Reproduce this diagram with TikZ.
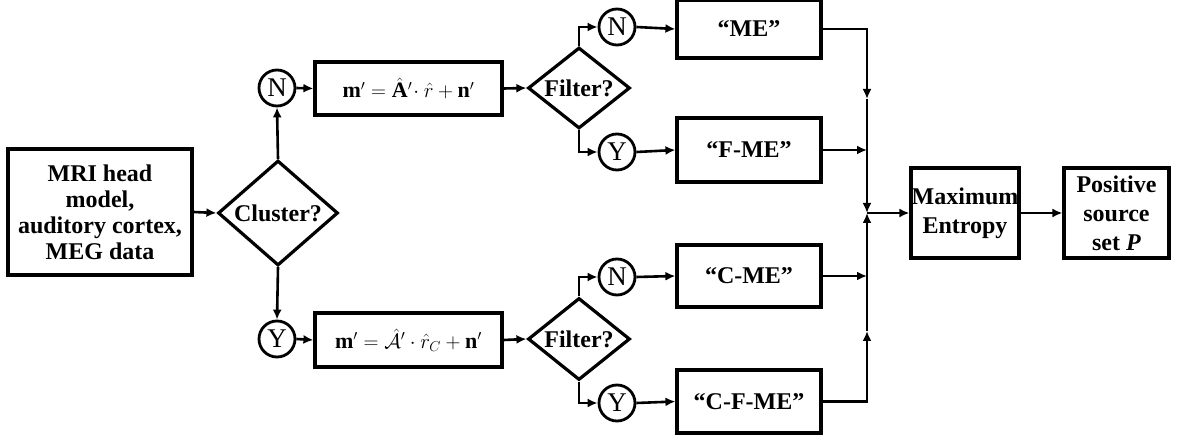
\documentclass[tikz,border=0pt]{standalone}
\usepackage{fontspec}
\setmainfont{Liberation Serif}
\usetikzlibrary{shapes.geometric,arrows.meta}
\begin{document}
\begin{tikzpicture}[x=1pt,y=-1pt,
  box/.style={draw,line width=3.2pt,inner sep=0pt,align=center,font=\fontsize{24}{26}\selectfont\bfseries},
  dia/.style={draw,diamond,line width=3.2pt,inner sep=0pt,font=\fontsize{24}{26}\selectfont\bfseries},
  yn/.style={draw,circle,line width=2.8pt,minimum size=36pt,inner sep=0pt,font=\fontsize{27}{27}\selectfont},
  fml/.style={box,font=\fontsize{22}{22}\selectfont},
  arr/.style={line width=2.6pt,-{Latex[length=10pt,width=9pt]}},
  ln/.style={line width=2.6pt},
]
\useasboundingbox (0,0) rectangle (1184,438);
\node[box,minimum width=184pt,minimum height=126pt] (mri) at (100,212) {MRI head\\model,\\auditory cortex,\\MEG data};
\node[dia,minimum width=120pt,minimum height=105pt] (cl) at (278,213) {\makebox[0pt]{Cluster?}};
\node[yn] (cn) at (277,88) {N};
\node[yn] (cy) at (277,339) {Y};
\node[fml,minimum width=187pt,minimum height=53pt] (f1) at (408.5,88.5) {$\mathbf{m}'=\hat{\mathbf{A}}'\!\cdot\hat{r}+\mathbf{n}'$};
\node[fml,minimum width=187pt,minimum height=54pt] (f2) at (408.5,340) {$\mathbf{m}'=\hat{\mathcal{A}}'\cdot\hat{r}_C+\mathbf{n}'$};
\node[dia,minimum width=102pt,minimum height=81pt] (fi1) at (579,88) {\makebox[0pt]{Filter?}};
\node[dia,minimum width=102pt,minimum height=82pt] (fi2) at (579,339) {\makebox[0pt]{Filter?}};
\node[yn] (n1) at (617,27) {N};
\node[yn] (y1) at (617,152) {Y};
\node[yn] (n2) at (617,277) {N};
\node[yn] (y2) at (617,403) {Y};
\node[box,minimum width=144pt,minimum height=58pt] (me) at (749,29) {“ME”};
\node[box,minimum width=144pt,minimum height=64pt] (fme) at (749,150) {“F-ME”};
\node[box,minimum width=144pt,minimum height=62pt] (cme) at (749,276) {“C-ME”};
\node[box,minimum width=144pt,minimum height=63pt] (cfme) at (749,401.5) {“C-F-ME”};
\node[box,minimum width=108pt,minimum height=90pt,font=\fontsize{24}{29}\selectfont\bfseries] (maxent) at (965,213) {Maximum\\Entropy};
\node[box,minimum width=105pt,minimum height=90pt,font=\fontsize{24}{29}\selectfont\bfseries] (pos) at (1116.5,213) {Positive\\source\\set \textit{P}};
\coordinate (j) at (867,213);
\coordinate (jF) at (867,150);
\coordinate (aME) at (867,99);
\coordinate (jC) at (867,276);
\coordinate (aCF) at (867,331);
\draw[arr] (mri.east) -- (cl.west);
\draw[arr] (cl.north) -- (cn.south);
\draw[arr] (cl.south) -- (cy.north);
\draw[arr] (cn.east) -- (f1.west);
\draw[arr] (cy.east) -- (f2.west);
\draw[arr] (f1.east) -- (fi1.west);
\draw[arr] (f2.east) -- (fi2.west);
\draw[arr] (fi1.north) |- (n1.west);
\draw[arr] (fi1.south) |- (y1.west);
\draw[arr] (fi2.north) |- (n2.west);
\draw[arr] (fi2.south) |- (y2.west);
\draw[arr] (n1.east) -- (me.west);
\draw[arr] (y1.east) -- (fme.west);
\draw[arr] (n2.east) -- (cme.west);
\draw[arr] (y2.east) -- (cfme.west);
\draw[arr] (me.east) -| (aME);
\draw[ln] (aME) -- (jF);
\draw[arr] (fme.east) -- (jF);
\draw[arr] (jF) -- (j);
\draw[arr] (cfme.east) -| (aCF);
\draw[ln] (aCF) -- (jC);
\draw[arr] (cme.east) -- (jC);
\draw[arr] (jC) -- (j);
\draw[arr] (j) -- (maxent.west);
\draw[arr] (maxent.east) -- (pos.west);
\end{tikzpicture}
\end{document}
